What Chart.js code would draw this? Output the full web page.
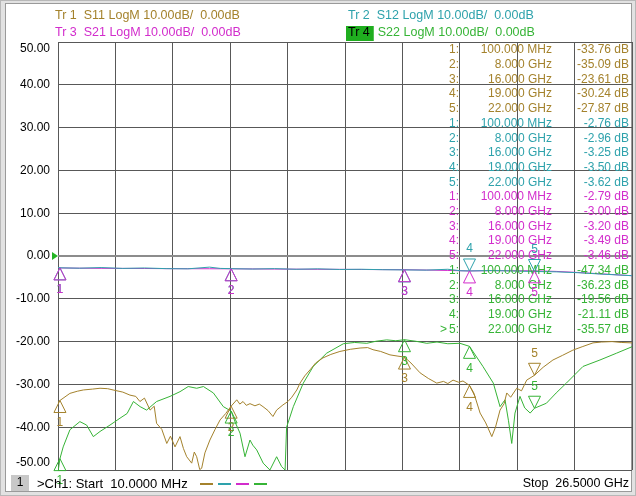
<!DOCTYPE html>
<html>
<head>
<meta charset="utf-8">
<script src="https://cdn.jsdelivr.net/npm/chart.js@4.4.1/dist/chart.umd.min.js"></script>
<style>
html,body{margin:0;padding:0;background:#fff;}
canvas{display:block;}
</style>
</head>
<body>
<canvas id="vna" width="636" height="496"></canvas>
<script>
// sweep range (GHz) and display scale
const startGHz = 0.01;
const stopGHz = 26.5;
const yMin = -50, yMax = 50, yStep = 10;
const yLabels = [50, 40, 30, 20, 10, 0, -10, -20, -30, -40, -50];

// colours of the four traces
const colS11 = '#a4822c';
const colS12 = '#2ea2ac';
const colS21 = '#d22ccc';
const colS22 = '#36b436';

// Tr1 S11
const s11Freq = [0.01,0.1,0.56,0.9,1.18,1.6,1.95,2.3,2.55,3.0,3.33,3.6,3.79,4.0,4.26,4.45,4.56,4.8,5.03,5.2,5.41,5.64,5.8,5.95,6.18,6.3,6.41,6.55,6.64,6.79,7.02,7.25,7.49,7.75,8.0,8.26,8.4,8.55,8.7,8.87,9.1,9.3,9.47,9.7,9.93,10.1,10.39,10.62,10.8,11.03,11.18,11.4,11.64,11.9,12.24,12.6,13.02,13.5,13.95,14.3,14.55,14.9,15.33,15.7,16.0,16.3,16.72,17.1,17.49,17.8,18.0,18.24,18.5,18.7,19.0,19.2,19.49,19.75,20.03,20.2,20.41,20.6,20.72,20.9,21.18,21.4,21.64,22.0,22.4,22.85,23.3,23.77,24.2,24.7,25.1,25.58,26.0,26.5];
const s11Db = [-34.2,-33.76,-32.1,-31.6,-31.3,-31.1,-30.9,-31.0,-31.3,-31.8,-32.5,-32.8,-34.0,-33.2,-36.0,-35.1,-39.1,-40.5,-43.8,-42.1,-44.6,-42.2,-45.0,-46.9,-48.4,-45.8,-46.9,-49.9,-49.6,-46.0,-43.0,-40.6,-38.3,-36.8,-35.09,-33.6,-34.6,-34.0,-34.9,-34.5,-35.0,-34.6,-35.2,-36.1,-37.5,-36.0,-34.8,-34.0,-33.0,-31.3,-29.7,-28.0,-26.6,-25.0,-23.8,-23.0,-22.3,-21.8,-21.5,-21.4,-21.9,-22.3,-23.1,-23.4,-23.61,-25.0,-27.3,-28.6,-29.7,-29.3,-29.8,-29.0,-29.5,-29.2,-30.24,-32.0,-36.7,-39.0,-42.2,-40.0,-36.0,-34.5,-32.0,-33.0,-30.9,-31.5,-29.0,-27.87,-26.0,-24.3,-23.2,-22.0,-21.2,-20.3,-20.1,-20.0,-20.2,-20.3];

// Tr2 S12
const s12Freq = [0.01,0.1,1,2,3,4,5,6,7,7.5,8,9,10,11,12,13,14,15,16,17,18,18.6,19,20,21,22,23,24,25,26.5];
const s12Db = [-2.7,-2.76,-2.85,-2.7,-2.9,-2.8,-2.95,-3.0,-2.6,-2.9,-2.96,-3.05,-2.95,-3.1,-3.0,-3.15,-3.1,-3.2,-3.25,-3.3,-3.1,-3.45,-3.5,-3.4,-3.5,-3.62,-3.7,-3.9,-4.2,-4.6];

// Tr3 S21
const s21Freq = [0.01,0.1,1,2,3,4,5,6,7,8,9,10,11,12,13,14,15,16,17,18,19,20,21,22,23,24,25,26.5];
const s21Db = [-2.72,-2.79,-2.85,-2.88,-2.9,-2.92,-2.95,-2.97,-2.98,-3.0,-3.02,-3.05,-3.08,-3.1,-3.12,-3.15,-3.18,-3.2,-3.28,-3.38,-3.49,-3.42,-3.44,-3.46,-3.6,-3.85,-4.15,-4.6];

// Tr4 S22
const s22Freq = [0.01,0.1,0.25,0.56,1.02,1.33,1.64,1.95,2.41,2.87,3.2,3.49,3.8,4.10,4.56,5.18,5.64,6.02,6.41,6.72,7.18,7.64,8.0,8.2,8.41,8.64,8.87,9.0,9.18,9.48,9.79,10.10,10.33,10.49,10.56,10.87,11.33,11.79,12.41,13.18,13.7,14.26,14.7,15.18,15.6,16.0,16.5,17.03,17.5,18.0,18.56,19.0,19.62,20.10,20.41,20.64,20.8,20.95,21.10,21.33,21.55,21.80,22.0,22.55,23.0,23.47,24.24,25.02,25.79,26.5];
const s22Db = [-50.5,-47.34,-44.6,-40.6,-38.7,-39.5,-42.2,-41.0,-39.5,-37.9,-36.8,-34.0,-35.2,-36.0,-34.0,-32.8,-31.7,-30.5,-30.9,-30.5,-32.0,-35.2,-36.23,-39.0,-41.4,-46.9,-43.0,-44.2,-45.3,-48.4,-50.0,-46.9,-49.2,-50.0,-40.0,-35.2,-29.7,-25.8,-22.7,-20.5,-20.2,-20.4,-19.9,-19.6,-19.8,-19.56,-19.9,-20.4,-20.1,-20.5,-20.4,-21.11,-25.8,-29.7,-35.2,-33.6,-38.5,-43.8,-36.7,-32.8,-35.5,-36.7,-35.57,-34.4,-32.0,-29.7,-25.8,-24.3,-22.7,-21.2];

// markers
const markerFreq = [0.1, 8, 16, 19, 22];
const markerFreqText = ['100.000 MHz', '8.000 GHz', '16.000 GHz', '19.000 GHz', '22.000 GHz'];
const s11Mk = [-33.76, -35.09, -23.61, -30.24, -27.87];
const s12Mk = [-2.76, -2.96, -3.25, -3.50, -3.62];
const s21Mk = [-2.79, -3.00, -3.20, -3.49, -3.46];
const s22Mk = [-47.34, -36.23, -19.56, -21.11, -35.57];
const s11Dir = ['up', 'up', 'up', 'up', 'down'];
const s12Dir = ['up', 'up', 'up', 'down', 'down'];
const s21Dir = ['up', 'up', 'up', 'up', 'up'];
const s22Dir = ['up', 'up', 'up', 'up', 'down'];

const FONT = '"Liberation Sans", Arial, sans-serif';

function pts(f, v) {
  const out = [];
  for (let i = 0; i < f.length; i++) out.push({x: f[i], y: v[i]});
  return out;
}

const traces = [
  {name: 'S11', col: colS11, mk: s11Mk, dir: s11Dir},
  {name: 'S12', col: colS12, mk: s12Mk, dir: s12Dir},
  {name: 'S21', col: colS21, mk: s21Mk, dir: s21Dir},
  {name: 'S22', col: colS22, mk: s22Mk, dir: s22Dir}
];

// frame + header + footer + marker table + markers
const vnaPlugin = {
  id: 'vna',
  beforeDraw(chart) {
    const c = chart.ctx, W = chart.width, H = chart.height;
    c.save();
    c.fillStyle = '#b8b8b8';
    c.fillRect(0, 0, W, H);
    c.fillStyle = '#e2e2e2';
    c.fillRect(1, 1, W - 2, H - 2);
    c.fillStyle = '#ffffff';
    c.fillRect(5, 3, W - 9, H - 7);
    c.strokeStyle = '#9a9a9a';
    c.lineWidth = 1;
    c.strokeRect(5.5, 3.5, W - 10, H - 8);
    c.restore();
  },
  afterDraw(chart) {
    const c = chart.ctx;
    const xs = chart.scales.x, ys = chart.scales.y;
    const area = chart.chartArea;
    c.save();
    c.textBaseline = 'middle';

    // y labels, top and bottom pulled inside the grid like the analyser does
    c.font = '12px ' + FONT;
    c.fillStyle = '#000';
    c.textAlign = 'right';
    yLabels.forEach(function (v) {
      let y = ys.getPixelForValue(v);
      if (v == yMax) y += 7;
      if (v == yMin) y -= 7;
      c.fillText(v.toFixed(2), area.left - 8, y);
    });

    // header lines
    c.font = '12.5px ' + FONT;
    c.textAlign = 'left';
    c.fillStyle = colS11; c.fillText('Tr 1  S11 LogM 10.00dB/  0.00dB', 55, 16);
    c.fillStyle = colS21; c.fillText('Tr 3  S21 LogM 10.00dB/  0.00dB', 55, 33);
    c.fillStyle = colS12; c.fillText('Tr 2  S12 LogM 10.00dB/  0.00dB', 348, 16);
    const tw = c.measureText('Tr 4').width;
    c.fillStyle = '#1fae1f';
    c.fillRect(346, 26, tw + 6, 15);
    c.fillStyle = '#000'; c.fillText('Tr 4', 348, 33);
    c.fillStyle = colS22; c.fillText('S22 LogM 10.00dB/  0.00dB', 348 + tw + 8, 33);

    // reference arrow at 0 dB
    const y0 = ys.getPixelForValue(0);
    c.fillStyle = '#22b422';
    c.beginPath();
    c.moveTo(area.left - 6, y0 - 4); c.lineTo(area.left, y0); c.lineTo(area.left - 6, y0 + 4);
    c.closePath(); c.fill();

    // marker readout table
    c.font = '12px ' + FONT;
    const rowH = 14.7;
    let row = 0;
    traces.forEach(function (t) {
      c.fillStyle = t.col;
      for (let i = 0; i < markerFreq.length; i++) {
        const y = 50 + row * rowH;
        c.textAlign = 'right';
        c.fillText((i + 1) + ':', 459, y);
        c.fillText(markerFreqText[i], 552, y);
        c.fillText(t.mk[i].toFixed(2) + ' dB', 629, y);
        if (t.name == 'S22' && i == 4) {
          c.textAlign = 'left';
          c.fillText('>', 440, y);
        }
        row++;
      }
    });

    // markers on traces
    c.lineWidth = 1;
    traces.forEach(function (t) {
      for (let i = 0; i < markerFreq.length; i++) {
        const x = xs.getPixelForValue(markerFreq[i]);
        const y = ys.getPixelForValue(t.mk[i]);
        const s = t.dir[i] == 'up' ? 1 : -1;
        c.strokeStyle = t.col;
        c.beginPath();
        c.moveTo(x, y);
        c.lineTo(x - 6, y + s * 12);
        c.lineTo(x + 6, y + s * 12);
        c.closePath();
        c.stroke();
        c.fillStyle = t.col;
        c.textAlign = 'center';
        c.fillText(String(i + 1), x, y + s * 22);
      }
    });

    // footer
    c.fillStyle = '#c8c8c8';
    c.fillRect(11, 475, 18, 16);
    c.fillStyle = '#000';
    c.textAlign = 'center';
    c.fillText('1', 20, 483);
    c.font = '13px ' + FONT;
    c.textAlign = 'left';
    c.fillText('>Ch1: Start  10.0000 MHz', 37, 484);
    const dcol = [colS11, colS12, colS21, colS22];
    c.lineWidth = 2;
    for (let i = 0; i < 4; i++) {
      c.strokeStyle = dcol[i];
      c.beginPath();
      c.moveTo(200 + i * 18, 484); c.lineTo(213 + i * 18, 484);
      c.stroke();
    }
    c.font = '12.5px ' + FONT;
    c.textAlign = 'right';
    c.fillText('Stop  26.5000 GHz', 629, 484);
    c.restore();
  }
};

const divGHz = (stopGHz - startGHz) / 10;

new Chart(document.getElementById('vna'), {
  type: 'line',
  data: {
    datasets: [
      {data: pts(s11Freq, s11Db), borderColor: colS11},
      {data: pts(s22Freq, s22Db), borderColor: colS22},
      {data: pts(s12Freq, s12Db), borderColor: colS12},
      {data: pts(s21Freq, s21Db), borderColor: colS21}
    ]
  },
  options: {
    responsive: false,
    animation: false,
    devicePixelRatio: 1,
    parsing: false,
    elements: {
      point: {radius: 0},
      line: {borderWidth: 1, tension: 0}
    },
    layout: {padding: {left: 0, top: 42, right: 4, bottom: 26}},
    plugins: {legend: {display: false}, tooltip: {enabled: false}},
    scales: {
      x: {
        type: 'linear',
        min: startGHz,
        max: stopGHz,
        afterBuildTicks(scale) {
          const t = [];
          for (let i = 0; i <= 10; i++) t.push({value: startGHz + i * divGHz});
          scale.ticks = t;
        },
        afterFit(scale) { scale.height = 0; },
        ticks: {display: false},
        grid: {color: '#585858', lineWidth: 1, drawTicks: false},
        border: {display: false}
      },
      y: {
        min: yMin,
        max: yMax,
        ticks: {stepSize: yStep, display: false},
        afterFit(scale) { scale.width = 58; },
        grid: {
          drawTicks: false,
          color: function (ctx) { return ctx.tick && ctx.tick.value == 0 ? '#8c8c8c' : '#585858'; },
          lineWidth: function (ctx) { return ctx.tick && ctx.tick.value == 0 ? 2 : 1; }
        },
        border: {display: false}
      }
    }
  },
  plugins: [vnaPlugin]
});
</script>
</body>
</html>
